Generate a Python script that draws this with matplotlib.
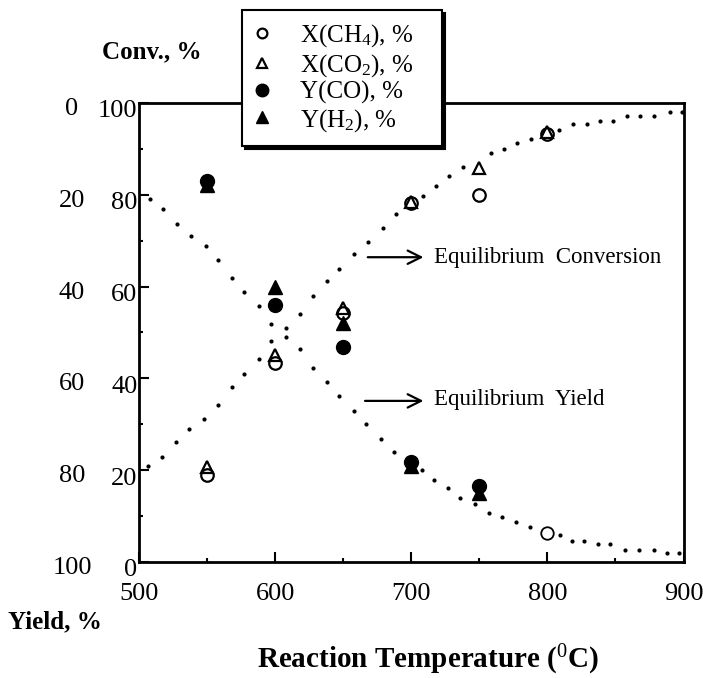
import numpy as np
import matplotlib
matplotlib.use("Agg")
import matplotlib.pyplot as plt
from matplotlib.lines import Line2D
from matplotlib import transforms

plt.rcParams['font.family'] = ['Liberation Serif', 'DejaVu Serif']
plt.rcParams['mathtext.fontset'] = 'custom'
plt.rcParams['mathtext.rm'] = 'Liberation Serif'
plt.rcParams['mathtext.it'] = 'Liberation Serif:italic'
plt.rcParams['mathtext.bf'] = 'Liberation Serif:bold'

# measured data (left "Conv." scale, 0-100)
T = [550, 600, 650, 700, 750, 800]
x_ch4 = [19.0, 43.4, 54.2, 78.2, 80.0, 93.3]
x_co2 = [20.7, 45.1, 55.3, 78.4, 85.8, 93.6]
T_y = [550, 600, 650, 700, 750]
y_co = [83.0, 56.0, 46.8, 21.8, 16.6]
y_h2 = [82.1, 60.0, 52.0, 20.9, 15.0]
odd_T = [800]
odd_v = [6.3]

# equilibrium curves (dots)
eq_conv_T = [506.6, 517, 527, 537, 548, 558, 568, 577, 588, 597, 608, 618, 628,
             638, 647, 658, 668, 679, 689, 708.5, 718, 728, 738, 758.6, 768, 778,
             788, 808.6, 819, 829, 839, 848.5, 858.7, 868, 878.6, 889.7, 899]
eq_conv = [20.9, 22.9, 26.1, 29.0, 31.2, 34.2, 38.1, 41.0, 44.2, 48.1, 51.0, 54.0,
           58.0, 61.2, 63.8, 67.1, 69.7, 72.8, 75.8, 79.7, 81.9, 84.0, 86.0, 89.2,
           90.0, 91.3, 92.2, 94.1, 95.4, 95.4, 96.0, 96.0, 97.2, 97.2, 97.2, 98.0, 98.0]
eq_yield_T = [508, 518, 528, 538, 549, 558, 568.5, 577, 588, 597, 608, 618, 628,
              638, 647, 658, 667, 678, 687, 708, 717, 727, 736, 747, 757, 767, 777,
              787, 809, 818, 827, 837, 846, 857, 867, 878, 888, 897]
eq_yield = [79.1, 76.9, 73.6, 71.0, 68.8, 65.8, 61.9, 58.8, 55.8, 51.9, 49.0, 46.4,
            42.3, 39.2, 36.2, 32.9, 30.0, 26.8, 24.0, 20.0, 17.9, 16.1, 14.0, 12.6,
            10.7, 9.8, 8.7, 7.6, 5.9, 4.6, 4.6, 3.9, 3.9, 2.6, 2.6, 2.6, 2.0, 2.0]

conv_ticks = [0, 20, 40, 60, 80, 100]
yield_ticks = [100, 80, 60, 40, 20, 0]
x_ticks = [500, 600, 700, 800, 900]

fig = plt.figure(figsize=(7.03, 6.78), dpi=100)
ax = fig.add_axes([0.1977, 0.1711, 0.7746, 0.6770])

ax.plot(eq_conv_T, eq_conv, ls='none', marker='o', ms=2.0, color='k')
ax.plot(eq_yield_T, eq_yield, ls='none', marker='o', ms=2.0, color='k')

ax.plot(T, x_ch4, ls='none', marker='o', ms=9, mfc='white', mec='k', mew=1.6)
ax.plot(T, x_co2, ls='none', marker='^', ms=9, mfc='none', mec='k', mew=1.6)
ax.plot(T_y, y_co, ls='none', marker='o', ms=10, color='k')
ax.plot(T_y, y_h2, ls='none', marker='^', ms=10, color='k')
ax.plot(odd_T, odd_v, ls='none', marker='o', ms=9, mfc='none', mec='k', mew=1.3)

ax.set_xlim(500, 900)
ax.set_ylim(0, 100)
ax.set_xticks(x_ticks)
ax.set_xticks([550, 650, 750, 850], minor=True)
ax.set_yticks(conv_ticks)
ax.set_yticks([10, 30, 50, 70, 90], minor=True)
ax.tick_params(which='both', direction='in', labelsize=19, width=1.5)
ax.tick_params(which='major', length=7)
ax.tick_params(which='minor', length=3)
ax.tick_params(axis='x', pad=15)
ax.tick_params(axis='y', pad=1)
for s in ax.spines.values():
    s.set_linewidth(2)

off = transforms.ScaledTranslation(0, -6 / 100, fig.dpi_scale_trans)
for lab in ax.get_yticklabels():
    lab.set_transform(lab.get_transform() + off)

# outer (yield) scale, reversed
tr = transforms.blended_transform_factory(fig.transFigure, ax.transData) + off
for v in yield_ticks:
    ax.text(72 / 703, 100 - v, str(v), transform=tr, ha='center', va='center',
            fontsize=19, clip_on=False)

fig.text(102 / 703, 1 - 52 / 678, 'Conv., %', fontsize=18, fontweight='bold',
         ha='left', va='center')
fig.text(8 / 703, 1 - 622 / 678, 'Yield, %', fontsize=18, fontweight='bold',
         ha='left', va='center')
fig.text(428 / 703, 1 - 660 / 678, r'Reaction Temperature ($^{0}$C)', fontsize=21,
         fontweight='bold', ha='center', va='center')

arrow = dict(arrowstyle='->', lw=1.6, color='k', mutation_scale=24)
ax.annotate('', xy=(711, 66.4), xytext=(666, 66.4), arrowprops=arrow)
ax.annotate('', xy=(711, 35.1), xytext=(664, 35.1), arrowprops=arrow)
ax.text(716.5, 66.4, 'Equilibrium  Conversion', fontsize=16.5, va='center', ha='left')
ax.text(716.5, 35.4, 'Equilibrium  Yield', fontsize=16.5, va='center', ha='left')

handles = [
    Line2D([], [], ls='none', marker='o', ms=7, mfc='white', mec='k', mew=1.6),
    Line2D([], [], ls='none', marker='^', ms=7, mfc='white', mec='k', mew=1.6),
    Line2D([], [], ls='none', marker='o', ms=9, color='k'),
    Line2D([], [], ls='none', marker='^', ms=9, color='k'),
]
labels = [r'X(CH$_4$), %', r'X(CO$_2$), %', 'Y(CO), %', r'Y(H$_2$), %']
leg = fig.legend(handles, labels, loc='upper left',
                 bbox_to_anchor=(242 / 703, 1 - 10 / 678, 200 / 703, 0),
                 mode='expand', fontsize=18,
                 frameon=True, fancybox=False, edgecolor='k', framealpha=1,
                 shadow={'color': 'k', 'alpha': 1}, handletextpad=1.2,
                 labelspacing=0.1, borderpad=0.5, handlelength=0.6,
                 borderaxespad=0)
leg.get_frame().set_linewidth(1.5)

fig.savefig('out.png', dpi=100)
